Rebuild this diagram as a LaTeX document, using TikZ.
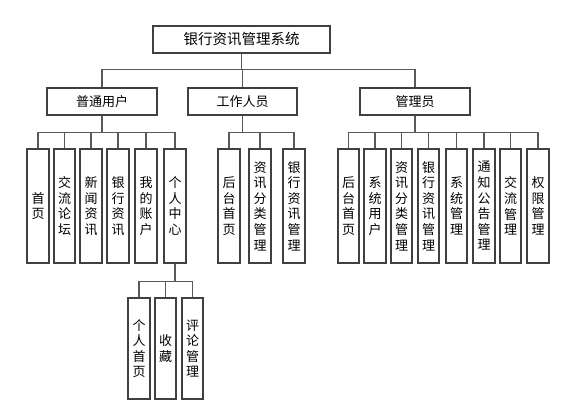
\documentclass[tikz,border=0pt]{standalone}
\usepackage{fontspec}
\newfontfamily\cjk{Noto Sans CJK SC}
\begin{document}
\begin{tikzpicture}[x=1pt,y=-1pt,
  box/.style={draw=black!75,line width=1.1pt,fill=white,inner sep=0pt,align=center,
    font=\cjk\fontsize{13}{15.6}\selectfont},
  link/.style={draw=black!65,line width=1.1pt}]
\useasboundingbox[fill=white] (0,0) rectangle (562,411);
\newcommand\bx[6]{\node[box,minimum width={#4-#2},minimum height={#5-#3}] (#1) at ({(#2+#4)/2},{(#3+#5)/2}) {#6};}
% level 0
\bx{root}{153}{26}{330}{53}{\fontsize{14.5}{16}\selectfont 银行资讯管理系统}
% level 1
\bx{u}{47}{88}{157}{115}{普通用户}
\bx{w}{188}{88}{297}{115}{工作人员}
\bx{m}{360}{88}{470}{115}{管理员}
% user children
\bx{u1}{27}{149}{49}{263}{首\\页}
\bx{u2}{54}{149}{75}{263}{交\\流\\论\\坛}
\bx{u3}{80}{149}{102}{263}{新\\闻\\资\\讯}
\bx{u4}{107}{149}{129}{263}{银\\行\\资\\讯}
\bx{u5}{135}{149}{157}{263}{我\\的\\账\\户}
\bx{u6}{164}{149}{186}{263}{个\\人\\中\\心}
% worker children
\bx{w1}{218}{149}{240}{263}{后\\台\\首\\页}
\bx{w2}{249}{149}{271}{263}{资\\讯\\分\\类\\管\\理}
\bx{w3}{283}{149}{305}{263}{银\\行\\资\\讯\\管\\理}
% admin children
\bx{m1}{338}{149}{359}{263}{后\\台\\首\\页}
\bx{m2}{364}{149}{386}{263}{系\\统\\用\\户}
\bx{m3}{391}{149}{412}{263}{资\\讯\\分\\类\\管\\理}
\bx{m4}{418}{149}{439}{263}{银\\行\\资\\讯\\管\\理}
\bx{m5}{446}{149}{467}{263}{系\\统\\管\\理}
\bx{m6}{473}{149}{495}{263}{通\\知\\公\\告\\管\\理}
\bx{m7}{500}{149}{521}{263}{交\\流\\管\\理}
\bx{m8}{527}{149}{549}{263}{权\\限\\管\\理}
% personal center children
\bx{p1}{128}{298}{150}{399}{个\\人\\首\\页}
\bx{p2}{155}{298}{176}{399}{收\\藏}
\bx{p3}{182}{298}{203}{399}{评\\论\\管\\理}
% connectors
\foreach \c in {u,w,m} \draw[link] (root.south) -- ++(0,16) -| (\c.north);
\foreach \c in {u1,u2,u3,u4,u5,u6} \draw[link] (u.south) -- ++(0,17) -| (\c.north);
\foreach \c in {w1,w2,w3} \draw[link] (w.south) -- ++(0,17) -| (\c.north);
\foreach \c in {m1,m2,m3,m4,m5,m6,m7,m8} \draw[link] (m.south) -- ++(0,17) -| (\c.north);
\foreach \c in {p1,p2,p3} \draw[link] (u6.south) -- ++(0,18) -| (\c.north);
\end{tikzpicture}
\end{document}
